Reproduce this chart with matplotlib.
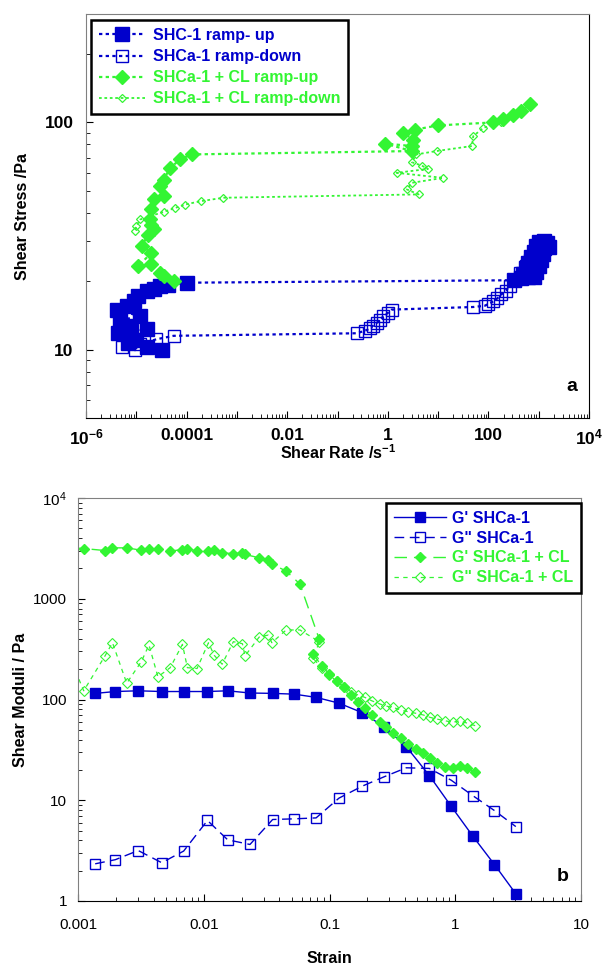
import matplotlib
matplotlib.use('agg')
import matplotlib.pyplot as plt
from matplotlib.ticker import FixedLocator, NullFormatter, LogLocator

plt.rcParams['font.family'] = ['Liberation Sans', 'DejaVu Sans']
plt.rcParams['mathtext.fontset'] = 'custom'
plt.rcParams['mathtext.rm'] = 'Liberation Sans'
plt.rcParams['mathtext.bf'] = 'Liberation Sans:bold'
plt.rcParams['mathtext.it'] = 'Liberation Sans:italic'

BLUE = '#0000cc'
GREEN = '#33f533'

## panel a: flow curves (shear rate, shear stress)
up_rate = [3.2e-5, 1.6e-5, 6.9e-6, 1.0e-5, 4.4e-6, 8e-6, 1.6e-5, 6.4e-6, 4.7e-6, 1.2e-5,
           4.1e-6, 6.4e-6, 9e-6, 1.1e-5, 1.6e-5, 2.2e-5, 3.0e-5, 4.3e-5, 1.0e-4,
           330, 450, 600, 800, 480, 650, 900, 550, 750, 1000, 620, 850, 1100, 700, 950,
           1200, 800, 1050, 1300, 900, 1150, 1400, 1000, 1250, 1450, 1600]
up_stress = [10.0, 10.3, 10.7, 11.0, 11.8, 12.1, 12.3, 12.7, 13.5, 14.0,
             15.0, 15.5, 16.3, 17.2, 18.1, 18.5, 19.0, 19.3, 19.7,
             20.2, 20.6, 20.8, 20.9, 21.6, 21.9, 22.0, 22.8, 23.2, 23.4, 24.1, 24.6, 24.9, 25.6, 26.1,
             26.4, 27.0, 27.6, 27.9, 28.5, 29.0, 29.2, 29.8, 30.0, 29.6, 28.2]

down_rate = [1600, 1400, 1050, 850, 680, 550, 430, 340, 270, 220, 182, 150, 125, 100, 85, 50,
             1.19, 1.0, 0.81, 0.70, 0.60, 0.50, 0.45, 0.35, 0.24,
             5.5e-5, 2.5e-5, 1.2e-5, 9.3e-6, 5.1e-6]
down_stress = [28.2, 28.5, 27.3, 26.0, 24.9, 23.3, 21.8, 20.3, 19.0, 18.2, 17.5, 16.8, 16.3, 15.9, 15.6, 15.4,
               15.0, 14.5, 14.0, 13.5, 13.1, 12.7, 12.4, 12.1, 11.8,
               11.5, 11.1, 10.6, 10.0, 10.3]

cl_up_rate = [5.5e-5, 3.0e-5, 3.5e-5, 2.0e-5, 1.1e-5, 2.0e-5, 1.3e-5, 1.7e-5, 2.2e-5, 2.0e-5,
              1.9e-5, 2.0e-5, 2.2e-5, 3.5e-5, 3.0e-5, 3.5e-5, 4.7e-5, 7.4e-5, 1.26e-4,
              3.0, 0.88, 3.0, 3.2, 2.05, 3.5, 10, 126, 198, 311, 450, 670]
cl_up_stress = [20.0, 21.8, 21.0, 23.7, 23.3, 26.7, 28.5, 32.1, 33.8, 35.5,
                37.4, 41.4, 45.8, 47.3, 52.5, 56, 63, 68.7, 72.3,
                74.8, 80.7, 78.7, 84, 90, 93, 97, 100, 104, 108, 112, 120]

cl_down_rate = [670, 450, 300, 182, 79, 50, 47, 9.3, 3.7, 3.0, 4.7, 6.3, 1.5, 12.6, 3.0, 2.4, 4.1,
                5.4e-4, 1.9e-4, 9.3e-5, 5.9e-5, 3.5e-5, 1.2e-5, 1.0e-5, 9.3e-6]
cl_down_stress = [120, 113, 108, 100, 94.6, 87, 78.7, 74.8, 72.3, 66.8, 64.6, 62.4, 60, 57, 54.2, 50.7, 48.2,
                  46.6, 45, 43.5, 42, 40.4, 37.4, 35, 33.2]

## panel b: amplitude sweep (strain, moduli)
strain_a = [1.37e-3, 1.98e-3, 3.01e-3, 4.63e-3, 6.92e-3, 0.0107, 0.0155, 0.0233, 0.0353, 0.0524,
            0.0782, 0.119, 0.182, 0.272, 0.408, 0.622, 0.929, 1.38, 2.05, 3.03]
g1_a = [115, 120, 122, 120, 120, 120, 122, 116, 115, 113, 105, 92, 74, 53.7, 34, 17.6, 8.7, 4.4, 2.3, 1.18]
g2_a = [2.34, 2.57, 3.17, 2.40, 3.13, 6.30, 4.05, 3.64, 6.44, 6.54, 6.68, 10.5, 13.8, 17.1, 21.0, 20.7,
        15.8, 11.1, 7.9, 5.48]

strain_cl = [0.0009, 1.11e-3, 1.64e-3, 1.88e-3, 2.44e-3, 3.19e-3, 3.67e-3, 4.32e-3, 5.41e-3, 6.77e-3,
             7.41e-3, 8.85e-3, 0.0109, 0.0121, 0.0140, 0.0172, 0.0203, 0.0213, 0.0276, 0.0325,
             0.0348, 0.0452, 0.0582, 0.083, 0.0743, 0.0867, 0.0998, 0.114, 0.130, 0.148,
             0.168, 0.191, 0.216, 0.252, 0.281, 0.321, 0.368, 0.423, 0.488, 0.557,
             0.630, 0.711, 0.829, 0.953, 1.09, 1.25, 1.44]
g1_cl = [3200, 3150, 3010, 3200, 3200, 3030, 3120, 3150, 2970, 3080,
         3150, 2970, 2970, 3060, 2850, 2810, 2850, 2750, 2550, 2400,
         2220, 1880, 1400, 395, 281, 215, 179, 154, 132, 111,
         95, 81.7, 70.1, 60.3, 53.7, 46.9, 41.2, 36.2, 32.0, 29.2,
         26.1, 23.3, 21.2, 20.7, 22.0, 20.7, 18.9]
g2_cl = [230, 122, 271, 366, 145, 238, 348, 168, 207, 353,
         207, 203, 366, 275, 224, 375, 358, 271, 417, 436,
         366, 490, 490, 375, 256, 204, 175, 151, 133, 120,
         111, 105, 97.3, 90.2, 86.1, 83.5, 78.6, 75.6, 72.9, 70.2,
         66.5, 64.0, 61.6, 59.3, 61.6, 58.1, 55]

fig = plt.figure(figsize=(6.03, 9.68), dpi=100)
ax1 = fig.add_axes([86/603, 1 - 418/968, 503/603, 404/968])
ax2 = fig.add_axes([78/603, 1 - 901/968, 503/603, 403/968])

dot = (0, (1.5, 1.5))
ax1.plot(up_rate, up_stress, ls=dot, lw=1.6, color=BLUE, marker='s', ms=9.5,
         mfc=BLUE, mec=BLUE, label='SHC-1 ramp- up')
ax1.plot(down_rate, down_stress, ls=dot, lw=1.6, color=BLUE, marker='s', ms=8.5,
         mfc='none', mec=BLUE, mew=1.0, label='SHCa-1 ramp-down')
ax1.plot(cl_up_rate, cl_up_stress, ls=dot, lw=1.6, color=GREEN, marker='D', ms=7,
         mfc=GREEN, mec=GREEN, label='SHCa-1 + CL ramp-up')
ax1.plot(cl_down_rate, cl_down_stress, ls=dot, lw=1.3, color=GREEN, marker='D', ms=4.5,
         mfc='none', mec=GREEN, mew=0.9, label='SHCa-1 + CL ramp-down')

ax1.set_xscale('log')
ax1.set_yscale('log')
ax1.set_xlim(1e-6, 1e4)
ax1.set_ylim(5, 300)
xdec = [10.0**k for k in range(-6, 5)]
xlab = [r'$\mathbf{10^{-6}}$', '', '0.0001', '', '0.01', '', '1', '', '100', '', r'$\mathbf{10^{4}}$']
ax1.set_xticks(xdec)
ax1.set_xticklabels(xlab)
ax1.xaxis.set_minor_locator(LogLocator(base=10, subs=range(2, 10), numticks=20))
ax1.xaxis.set_minor_formatter(NullFormatter())
ax1.set_yticks([10, 100])
ax1.set_yticklabels(['10', '100'])
ax1.yaxis.set_minor_locator(FixedLocator([6, 7, 8, 9, 20, 30, 40, 50, 60, 70, 80, 90, 200]))
ax1.yaxis.set_minor_formatter(NullFormatter())
ax1.tick_params(which='both', direction='in', top=False, right=False)
ax1.tick_params(which='major', length=5, labelsize=12.5)
ax1.tick_params(which='minor', length=3)
ax1.tick_params(axis='x', pad=7)
ax1.tick_params(axis='y', pad=9)
for t in ax1.get_xticklabels() + ax1.get_yticklabels():
    t.set_fontweight('bold')
ax1.set_xlabel(r'Shear Rate /s$^{\mathbf{-1}}$', fontsize=11.5, fontweight='bold')
ax1.set_ylabel('Shear Stress /Pa', fontsize=11.5, fontweight='bold')
ax1.xaxis.set_label_coords(0.5, -0.086)
ax1.xaxis.label.set_va('center')
ax1.yaxis.set_label_coords(-0.127, 0.5)
ax1.yaxis.label.set_va('center')
ax1.text(0.966, 0.077, 'a', transform=ax1.transAxes, fontsize=14, fontweight='bold',
         ha='center', va='center')
for s in ['left', 'top']:
    ax1.spines[s].set_color('#808080')
ax1.spines['bottom'].set_color('black')
ax1.spines['right'].set_color('black')
leg1 = ax1.legend(loc='upper left', bbox_to_anchor=(0.01, 0.985), borderaxespad=0,
                  prop={'weight': 'bold', 'size': 11.5}, labelcolor='linecolor',
                  handlelength=2.9, handletextpad=0.45, labelspacing=0.38, borderpad=0.5,
                  fancybox=False, edgecolor='black', framealpha=1, numpoints=1)
leg1.get_frame().set_linewidth(1.8)

## panel b
ax2.plot(strain_a, g1_a, ls='-', lw=1.0, color=BLUE, marker='s', ms=6.5,
         mfc=BLUE, mec=BLUE, label="G' SHCa-1")
ax2.plot(strain_a, g2_a, ls=(0, (7, 4)), lw=1.0, color=BLUE, marker='s', ms=6.5,
         mfc='none', mec=BLUE, mew=1.0, label='G" SHCa-1')
ax2.plot(strain_cl, g1_cl, ls=(0, (9, 5)), lw=1.0, color=GREEN, marker='D', ms=5.5,
         mfc=GREEN, mec=GREEN, label="G' SHCa-1 + CL")
ax2.plot(strain_cl, g2_cl, ls=(0, (3.5, 3.5)), lw=0.9, color=GREEN, marker='D', ms=5,
         mfc='none', mec=GREEN, mew=0.8, label='G" SHCa-1 + CL')

ax2.set_xscale('log')
ax2.set_yscale('log')
ax2.set_xlim(1e-3, 10)
ax2.set_ylim(1, 1e4)
ax2.set_xticks([1e-3, 1e-2, 1e-1, 1, 10])
ax2.set_xticklabels(['0.001', '0.01', '0.1', '1', '10'])
ax2.set_yticks([1, 10, 100, 1000, 1e4])
ax2.set_yticklabels(['1', '10', '100', '1000', r'$\mathrm{10^{4}}$'])
ax2.xaxis.set_minor_locator(LogLocator(base=10, subs=range(2, 10), numticks=20))
ax2.yaxis.set_minor_locator(LogLocator(base=10, subs=range(2, 10), numticks=20))
ax2.xaxis.set_minor_formatter(NullFormatter())
ax2.yaxis.set_minor_formatter(NullFormatter())
ax2.tick_params(which='both', direction='in', top=False, right=False)
ax2.tick_params(which='major', length=5, labelsize=11)
ax2.tick_params(which='minor', length=3)
ax2.tick_params(axis='x', pad=12)
ax2.tick_params(axis='y', pad=8)
ax2.set_xlabel('Strain', fontsize=11.5, fontweight='bold')
ax2.set_ylabel('Shear Moduli / Pa', fontsize=11.5, fontweight='bold')
ax2.xaxis.set_label_coords(0.5, -0.143)
ax2.xaxis.label.set_va('center')
ax2.yaxis.set_label_coords(-0.114, 0.5)
ax2.yaxis.label.set_va('center')
ax2.text(0.964, 0.06, 'b', transform=ax2.transAxes, fontsize=14, fontweight='bold',
         ha='center', va='center')
for s in ['left', 'top', 'right']:
    ax2.spines[s].set_color('#808080')
ax2.spines['bottom'].set_color('black')
leg2 = ax2.legend(loc='upper right', bbox_to_anchor=(1.0, 0.988), borderaxespad=0,
                  prop={'weight': 'bold', 'size': 11.5}, labelcolor='linecolor',
                  handlelength=3.2, handletextpad=0.4, labelspacing=0.3, borderpad=0.5,
                  fancybox=False, edgecolor='black', framealpha=1, numpoints=1)
leg2.get_frame().set_linewidth(1.8)

fig.savefig('out.png', dpi=100)
